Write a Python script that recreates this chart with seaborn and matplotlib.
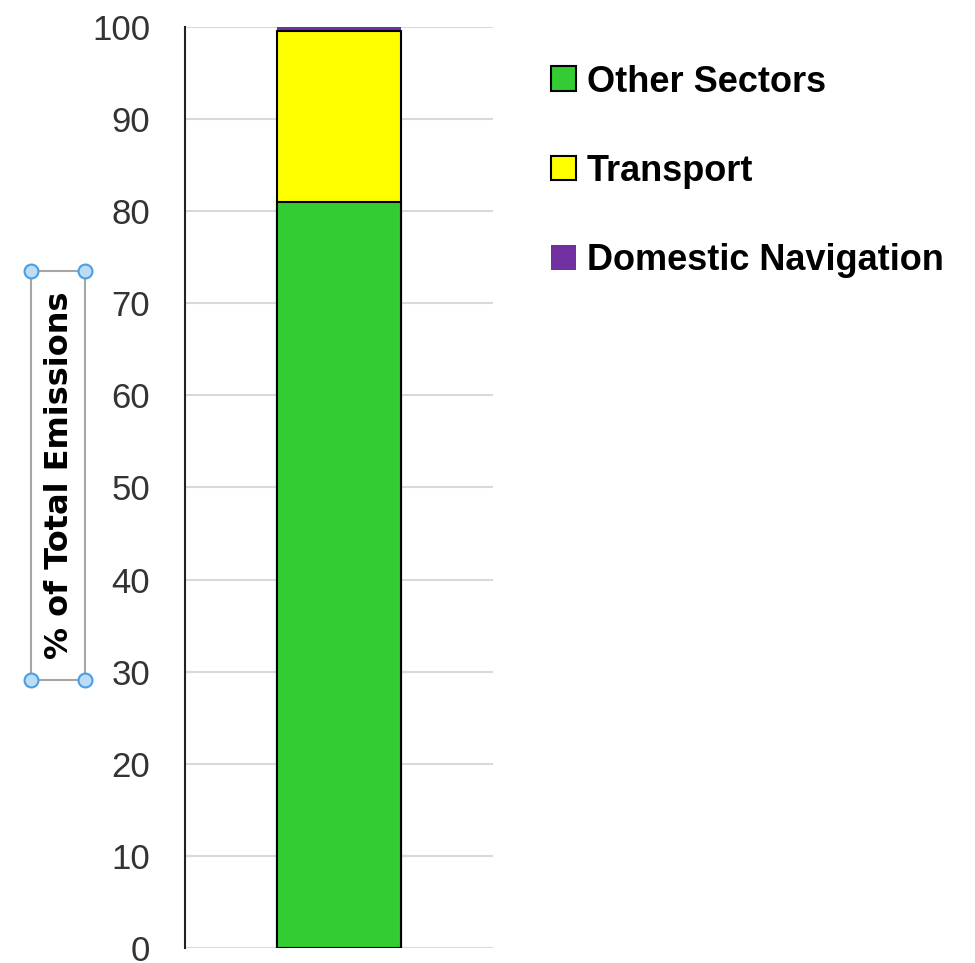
import pandas as pd
import matplotlib.pyplot as plt
import seaborn as sns
from matplotlib.patches import Patch, Rectangle
from matplotlib.lines import Line2D

# data (share of total emissions, %)
sectors = ["Other Sectors", "Transport", "Domestic Navigation"]
shares = [81.0, 18.6, 0.4]
colors = ["#33cc33", "#ffff00", "#7030a0"]
edges = ["black", "black", "none"]
yticks = list(range(0, 101, 10))

df = pd.DataFrame({"sector": sectors, "share": shares})
df["top"] = df["share"].cumsum()
df["group"] = ""

sns.set_style("white")
plt.rcParams["font.family"] = ["Liberation Sans", "DejaVu Sans"]
plt.rcParams["text.color"] = "black"

fig = plt.figure(figsize=(9.75, 9.63), dpi=100)
ax = fig.add_axes([0.1897, 0.0156, 0.3159, 0.9564])

# stacked bar: draw cumulative tops from the highest down
for i in reversed(range(len(df))):
    sns.barplot(
        data=df.iloc[[i]], x="group", y="top", ax=ax,
        color=colors[i], edgecolor=edges[i], linewidth=1.5,
        width=0.4, saturation=1, errorbar=None,
    )

ax.set_xlim(-0.5, 0.5)
ax.set_ylim(0, 100)
ax.set_yticks(yticks)
ax.set_yticklabels([str(t) for t in yticks], fontsize=25, color="#333333")
ax.tick_params(axis="y", length=0, pad=25)
ax.set_xticks([])
ax.set_xlabel("")
ax.yaxis.grid(True, color="#d9d9d9", linewidth=1.5)
ax.set_axisbelow(True)
for s in ["top", "right", "bottom"]:
    ax.spines[s].set_visible(False)
ax.spines["left"].set_color("#222222")
ax.spines["left"].set_linewidth(1.5)

ax.set_ylabel("% of Total Emissions", fontsize=23, fontweight="bold",
              family="DejaVu Sans", color="black")
ax.yaxis.set_label_coords(-0.357, 0.5136)

# selection box around the axis title
x0, x1 = 31 / 975, 85 / 975
y0, y1 = 1 - 680 / 963, 1 - 271 / 963
fig.patches.append(Rectangle((x0, y0), x1 - x0, y1 - y0, transform=fig.transFigure,
                             fill=False, edgecolor="#a6a6a6", linewidth=1.5))
fig.add_artist(Line2D([x0, x1, x0, x1], [y0, y0, y1, y1], transform=fig.transFigure,
                      linestyle="none", marker="o", markersize=10,
                      markerfacecolor="#bcdcf7", markeredgecolor="#4a9ee6",
                      markeredgewidth=1.5))

handles = [Patch(facecolor=c, edgecolor=e, linewidth=1.5) for c, e in zip(colors, edges)]
leg = fig.legend(handles, sectors, loc="upper left", bbox_to_anchor=(0.5503, 0.948),
                 frameon=False, prop={"size": 26, "weight": "bold"},
                 labelspacing=1.5, handlelength=0.68, handleheight=0.68,
                 handletextpad=0.32, borderaxespad=0)
for t in leg.get_texts():
    t.set_color("black")

fig.savefig("out.png", dpi=100)
